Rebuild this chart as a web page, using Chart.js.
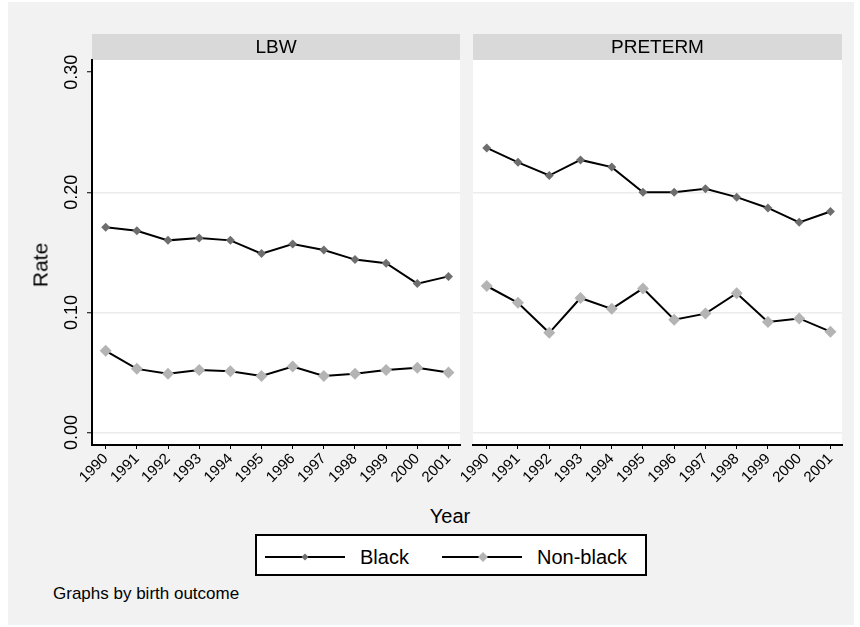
<!DOCTYPE html>
<html>
<head>
<meta charset="utf-8">
<script src="https://cdn.jsdelivr.net/npm/chart.js@4/dist/chart.umd.min.js"></script>
<style>
  html, body { margin: 0; padding: 0; background: #ffffff; }
  body { width: 860px; height: 627px; position: relative; overflow: hidden;
         font-family: "Liberation Sans", Arial, sans-serif; color: #000; }
  #bg { position: absolute; left: 8px; top: 2px; width: 846px; height: 623px; background: #f2f2f2; }
  canvas { position: absolute; top: 0; }
  #cLeft { left: 0; }
  #cRight { left: 440px; }
  .txt { position: absolute; white-space: nowrap; line-height: 1; }
  #ytitle { left: 40px; top: 265px; font-size: 21px; transform: translate(-50%, -50%) rotate(-90deg); }
  #xtitle { left: 450px; top: 516px; font-size: 20px; transform: translate(-50%, -50%); }
  #note { left: 53px; top: 593px; font-size: 17px; transform: translateY(-50%); }
  #legend { position: absolute; left: 255px; top: 534px; width: 388px; height: 38px;
            border: 2px solid #000; background: #fff; }
  .lg-line { position: absolute; top: 20px; height: 2px; width: 80px; background: #000; }
  .lg-mark { position: absolute; transform: translate(-50%, -50%) rotate(45deg); }
  .lg-text { position: absolute; top: 21px; font-size: 20px; line-height: 1; transform: translateY(-50%); }
</style>
</head>
<body>
<div id="bg"></div>
<canvas id="cLeft" width="470" height="500"></canvas>
<canvas id="cRight" width="410" height="500"></canvas>
<div class="txt" id="ytitle">Rate</div>
<div class="txt" id="xtitle">Year</div>
<div id="legend">
  <div class="lg-line" style="left:8px"></div>
  <div class="lg-mark" style="left:48px; top:21px; width:5px; height:5px; background:#6e6e6e"></div>
  <div class="lg-text" style="left:103px">Black</div>
  <div class="lg-line" style="left:185px"></div>
  <div class="lg-mark" style="left:226px; top:21px; width:7px; height:7px; background:#b4b4b4"></div>
  <div class="lg-text" style="left:280px">Non-black</div>
</div>
<div class="txt" id="note">Graphs by birth outcome</div>

<script>
// Birth outcome rates by year, black vs non-black mothers
const years = [1990, 1991, 1992, 1993, 1994, 1995, 1996, 1997, 1998, 1999, 2000, 2001];
const yearLabels = ['1990', '1991', '1992', '1993', '1994', '1995', '1996', '1997', '1998', '1999', '2000', '2001'];
const panels = ['LBW', 'PRETERM'];
const seriesNames = ['Black', 'Non-black'];

const lbwBlack    = [0.171, 0.168, 0.160, 0.162, 0.160, 0.149, 0.157, 0.152, 0.144, 0.141, 0.124, 0.130];
const lbwNonBlack = [0.068, 0.053, 0.049, 0.052, 0.051, 0.047, 0.055, 0.047, 0.049, 0.052, 0.054, 0.050];
const pretermBlack    = [0.237, 0.225, 0.214, 0.227, 0.221, 0.200, 0.200, 0.203, 0.196, 0.187, 0.175, 0.184];
const pretermNonBlack = [0.122, 0.108, 0.083, 0.112, 0.103, 0.120, 0.094, 0.099, 0.116, 0.092, 0.095, 0.084];

const yTicks = [0, 0.1, 0.2, 0.3];
const yTickLabels = ['0.00', '0.10', '0.20', '0.30'];

const FONT = '"Liberation Sans", Arial, sans-serif';

// White plot region and grey caption strip above each panel
const panelDecor = {
  id: 'panelDecor',
  beforeDraw(chart, args, opts) {
    const { ctx, chartArea: a } = chart;
    ctx.save();
    ctx.fillStyle = '#ffffff';
    ctx.fillRect(a.left, a.top, a.right - a.left, a.bottom - a.top);
    ctx.fillStyle = '#d9d9d9';
    ctx.fillRect(a.left, a.top - 26, a.right - a.left, 26);
    ctx.fillStyle = '#000';
    ctx.font = '19px ' + FONT;
    ctx.textAlign = 'center';
    ctx.textBaseline = 'middle';
    ctx.fillText(opts.title, (a.left + a.right) / 2, a.top - 12);
    ctx.restore();
  }
};

// Vertical tick labels along the shared y axis
const verticalYLabels = {
  id: 'verticalYLabels',
  afterDraw(chart) {
    const y = chart.scales.y;
    const ctx = chart.ctx;
    ctx.save();
    ctx.fillStyle = '#000';
    ctx.font = '18px ' + FONT;
    ctx.textAlign = 'center';
    ctx.textBaseline = 'middle';
    y.ticks.forEach((t, i) => {
      const py = y.getPixelForValue(t.value);
      ctx.save();
      ctx.translate(y.right - 20, py);
      ctx.rotate(-Math.PI / 2);
      ctx.fillText(yTickLabels[i], 0, 0);
      ctx.restore();
    });
    ctx.restore();
  }
};

function points(values) {
  return years.map((x, i) => ({ x, y: values[i] }));
}

function makeChart(canvasId, title, black, nonBlack, showY, yWidth, padRight) {
  const plugins = [panelDecor];
  if (showY) plugins.push(verticalYLabels);
  return new Chart(document.getElementById(canvasId), {
    type: 'line',
    data: {
      datasets: [
        {
          label: seriesNames[0],
          data: points(black),
          borderColor: '#000',
          borderWidth: 2,
          pointStyle: 'rectRot',
          pointRadius: 4.5,
          pointBackgroundColor: '#6e6e6e',
          pointBorderColor: '#6e6e6e',
          pointBorderWidth: 0,
          tension: 0
        },
        {
          label: seriesNames[1],
          data: points(nonBlack),
          borderColor: '#000',
          borderWidth: 2,
          pointStyle: 'rectRot',
          pointRadius: 6,
          pointBackgroundColor: '#b4b4b4',
          pointBorderColor: '#b4b4b4',
          pointBorderWidth: 0,
          tension: 0
        }
      ]
    },
    options: {
      responsive: false,
      animation: false,
      devicePixelRatio: 1,
      layout: { padding: { top: 60, right: padRight, left: 0, bottom: 0 } },
      plugins: {
        legend: { display: false },
        tooltip: { enabled: false },
        panelDecor: { title }
      },
      scales: {
        x: {
          type: 'linear',
          min: 1989.56,
          max: 2001.37,
          afterBuildTicks: s => { s.ticks = years.map(v => ({ value: v })); },
          afterFit: s => { s.height = 55; },
          ticks: {
            autoSkip: false,
            minRotation: 45,
            maxRotation: 45,
            padding: 1,
            color: '#000',
            font: { family: FONT, size: 15 },
            callback: (v, i) => yearLabels[i]
          },
          grid: { drawOnChartArea: false, drawTicks: true, tickLength: 4, tickColor: '#000', tickWidth: 1 },
          border: { display: true, color: '#000', width: 2 }
        },
        y: {
          min: -0.0104,
          max: 0.3102,
          afterBuildTicks: s => { s.ticks = yTicks.map(v => ({ value: v })); },
          afterFit: s => { s.width = yWidth; },
          ticks: { display: false },
          grid: {
            drawOnChartArea: true,
            drawTicks: showY,
            tickLength: 5,
            tickColor: '#000',
            tickWidth: 1,
            lineWidth: 1.5,
            color: c => (c.tick && c.tick.value >= 0.3) ? 'rgba(0,0,0,0)' : '#ececec'
          },
          border: { display: showY, color: '#000', width: 2 }
        }
      }
    },
    plugins
  });
}

makeChart('cLeft', panels[0], lbwBlack, lbwNonBlack, true, 92, 10);
makeChart('cRight', panels[1], pretermBlack, pretermNonBlack, false, 33, 8);
</script>
</body>
</html>
